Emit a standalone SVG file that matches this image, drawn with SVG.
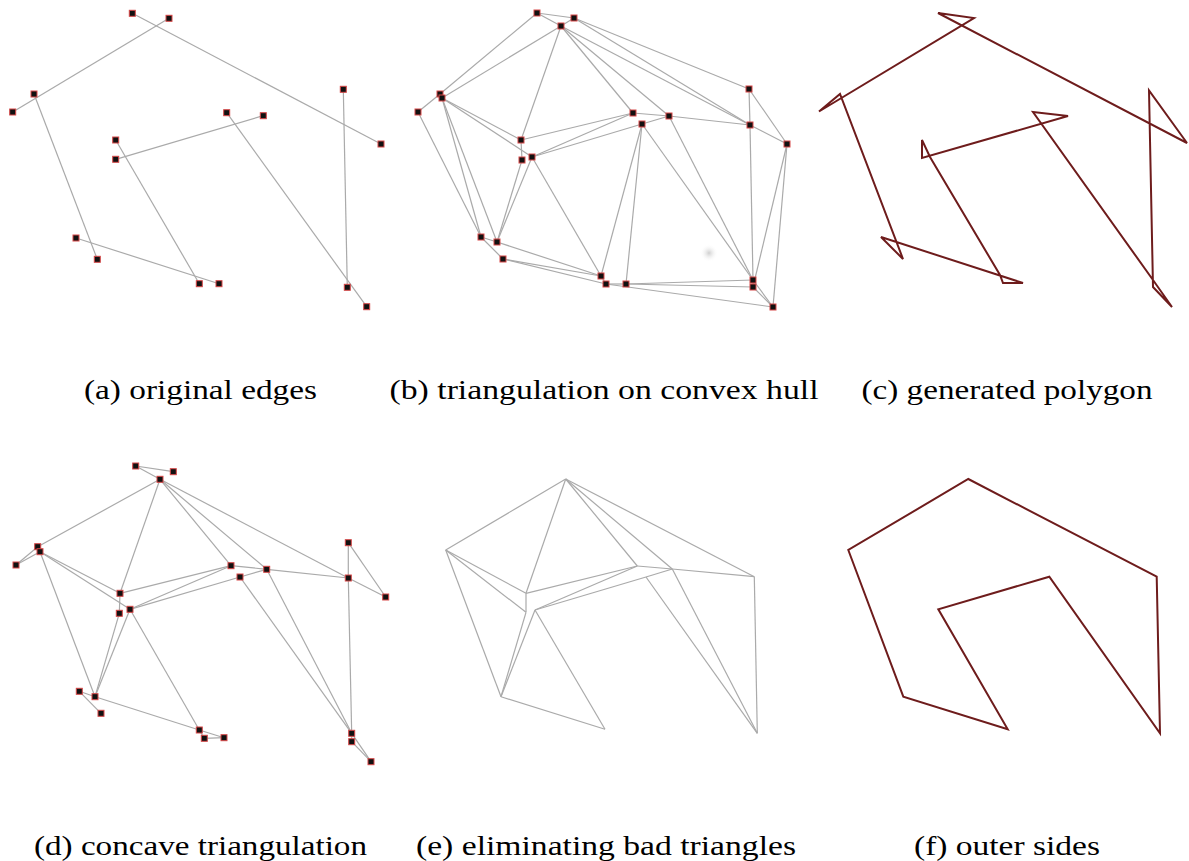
<svg xmlns="http://www.w3.org/2000/svg" xmlns:xlink="http://www.w3.org/1999/xlink" width="1189" height="861" viewBox="0 0 1189 861">
<style>
.e line{stroke:#aaaaaa;stroke-width:1.2;fill:none}
.p{stroke:#6e1c1c;stroke-width:2;fill:none;stroke-linejoin:miter}
.cap{font-family:"Liberation Serif","Times New Roman",serif;font-size:28px;fill:#000;text-anchor:middle}
</style>
<defs>
<rect id="sq" x="-3" y="-3" width="6" height="6" fill="#111" stroke="#d84848" stroke-width="1"/>
<radialGradient id="smudge"><stop offset="0" stop-color="#cfcfcf"/><stop offset="1" stop-color="#ffffff" stop-opacity="0"/></radialGradient>
</defs>
<rect width="1189" height="861" fill="#fff"/>

<!-- (a) original edges -->
<g id="panel-a">
<g id="a-edges" class="e">
<line x1="12.7" y1="112" x2="169" y2="18.3"/>
<line x1="132.3" y1="13.3" x2="381" y2="144"/>
<line x1="34" y1="94" x2="97.3" y2="259.3"/>
<line x1="76" y1="238" x2="219" y2="283.7"/>
<line x1="115.7" y1="140" x2="199.3" y2="283.7"/>
<line x1="115.7" y1="159.3" x2="263.3" y2="115.7"/>
<line x1="226.7" y1="112.7" x2="366.7" y2="306.7"/>
<line x1="343.3" y1="89.3" x2="347.3" y2="287.3"/>
</g>
<g id="a-n1"><use xlink:href="#sq" x="132.3" y="13.3"/></g>
<g id="a-n2"><use xlink:href="#sq" x="169" y="18.3"/></g>
<g id="a-n3"><use xlink:href="#sq" x="34" y="94"/></g>
<g id="a-n4"><use xlink:href="#sq" x="12.7" y="112"/></g>
<g id="a-n5"><use xlink:href="#sq" x="343.3" y="89.3"/></g>
<g id="a-n6"><use xlink:href="#sq" x="226.7" y="112.7"/></g>
<g id="a-n7"><use xlink:href="#sq" x="263.3" y="115.7"/></g>
<g id="a-n8"><use xlink:href="#sq" x="381" y="144"/></g>
<g id="a-n9"><use xlink:href="#sq" x="115.7" y="140"/></g>
<g id="a-n10"><use xlink:href="#sq" x="115.7" y="159.3"/></g>
<g id="a-n11"><use xlink:href="#sq" x="76" y="238"/></g>
<g id="a-n12"><use xlink:href="#sq" x="97.3" y="259.3"/></g>
<g id="a-n13"><use xlink:href="#sq" x="199.3" y="283.7"/></g>
<g id="a-n14"><use xlink:href="#sq" x="219" y="283.7"/></g>
<g id="a-n15"><use xlink:href="#sq" x="347.3" y="287.3"/></g>
<g id="a-n16"><use xlink:href="#sq" x="366.7" y="306.7"/></g>
<text class="cap" x="200.5" y="399" textLength="233" lengthAdjust="spacingAndGlyphs">(a) original edges</text>
</g>

<!-- (b) triangulation on convex hull -->
<g id="panel-b">
<circle cx="709" cy="253" r="9" fill="url(#smudge)"/>
<g id="b-edges" class="e">
<line x1="537" y1="13" x2="574" y2="18"/>
<line x1="537" y1="13" x2="561" y2="26"/>
<line x1="574" y1="18" x2="561" y2="26"/>
<line x1="537" y1="13" x2="440" y2="94"/>
<line x1="561" y1="26" x2="442" y2="98"/>
<line x1="561" y1="26" x2="521" y2="140"/>
<line x1="561" y1="26" x2="633" y2="113"/>
<line x1="561" y1="26" x2="669" y2="116"/>
<line x1="561" y1="26" x2="750" y2="125"/>
<line x1="574" y1="18" x2="750" y2="125"/>
<line x1="574" y1="18" x2="749" y2="89"/>
<line x1="749" y1="89" x2="750" y2="125"/>
<line x1="749" y1="89" x2="787" y2="144"/>
<line x1="750" y1="125" x2="787" y2="144"/>
<line x1="787" y1="144" x2="773" y2="307"/>
<line x1="787" y1="144" x2="753" y2="287"/>
<line x1="750" y1="125" x2="753" y2="280"/>
<line x1="669" y1="116" x2="750" y2="125"/>
<line x1="633" y1="113" x2="669" y2="116"/>
<line x1="642" y1="124" x2="669" y2="116"/>
<line x1="633" y1="113" x2="521" y2="140"/>
<line x1="633" y1="113" x2="532" y2="157"/>
<line x1="642" y1="124" x2="532" y2="157"/>
<line x1="669" y1="116" x2="753" y2="280"/>
<line x1="642" y1="124" x2="753" y2="280"/>
<line x1="642" y1="124" x2="601" y2="276"/>
<line x1="642" y1="124" x2="626" y2="284"/>
<line x1="440" y1="94" x2="418" y2="112"/>
<line x1="418" y1="112" x2="481" y2="237"/>
<line x1="442" y1="98" x2="521" y2="140"/>
<line x1="442" y1="98" x2="532" y2="157"/>
<line x1="442" y1="98" x2="481" y2="237"/>
<line x1="442" y1="98" x2="497" y2="242"/>
<line x1="521" y1="140" x2="522" y2="160"/>
<line x1="522" y1="160" x2="497" y2="242"/>
<line x1="532" y1="157" x2="497" y2="242"/>
<line x1="532" y1="157" x2="601" y2="276"/>
<line x1="481" y1="237" x2="497" y2="242"/>
<line x1="481" y1="237" x2="503" y2="259"/>
<line x1="497" y1="242" x2="601" y2="276"/>
<line x1="503" y1="259" x2="601" y2="276"/>
<line x1="503" y1="259" x2="606" y2="284"/>
<line x1="601" y1="276" x2="606" y2="284"/>
<line x1="606" y1="284" x2="626" y2="284"/>
<line x1="626" y1="284" x2="753" y2="280"/>
<line x1="626" y1="284" x2="753" y2="287"/>
<line x1="606" y1="284" x2="773" y2="307"/>
<line x1="753" y1="280" x2="753" y2="287"/>
<line x1="753" y1="287" x2="773" y2="307"/>
<line x1="753" y1="280" x2="773" y2="307"/>
</g>
<g id="b-n1"><use xlink:href="#sq" x="537" y="13"/></g>
<g id="b-n2"><use xlink:href="#sq" x="574" y="18"/></g>
<g id="b-n3"><use xlink:href="#sq" x="561" y="26"/></g>
<g id="b-n4a"><use xlink:href="#sq" x="440" y="94"/></g>
<g id="b-n4b"><use xlink:href="#sq" x="442" y="98"/></g>
<g id="b-n5"><use xlink:href="#sq" x="418" y="112"/></g>
<g id="b-n6"><use xlink:href="#sq" x="749" y="89"/></g>
<g id="b-n7"><use xlink:href="#sq" x="633" y="113"/></g>
<g id="b-n8"><use xlink:href="#sq" x="669" y="116"/></g>
<g id="b-n9"><use xlink:href="#sq" x="642" y="124"/></g>
<g id="b-n10"><use xlink:href="#sq" x="750" y="125"/></g>
<g id="b-n11"><use xlink:href="#sq" x="787" y="144"/></g>
<g id="b-n12"><use xlink:href="#sq" x="521" y="140"/></g>
<g id="b-n13"><use xlink:href="#sq" x="522" y="160"/></g>
<g id="b-n14"><use xlink:href="#sq" x="532" y="157"/></g>
<g id="b-n15"><use xlink:href="#sq" x="481" y="237"/></g>
<g id="b-n16"><use xlink:href="#sq" x="497" y="242"/></g>
<g id="b-n17"><use xlink:href="#sq" x="503" y="259"/></g>
<g id="b-n18"><use xlink:href="#sq" x="601" y="276"/></g>
<g id="b-n19"><use xlink:href="#sq" x="606" y="284"/></g>
<g id="b-n20"><use xlink:href="#sq" x="626" y="284"/></g>
<g id="b-n21"><use xlink:href="#sq" x="753" y="280"/></g>
<g id="b-n22"><use xlink:href="#sq" x="753" y="287"/></g>
<g id="b-n23"><use xlink:href="#sq" x="773" y="307"/></g>
<text class="cap" x="604" y="399" textLength="429" lengthAdjust="spacingAndGlyphs">(b) triangulation on convex hull</text>
</g>

<!-- (c) generated polygon -->
<g id="panel-c">
<polygon id="c-polygon" class="p" points="938,13 974,18 819,111.5 840,94 903,259 881,237 1023,283 1003,283 1000,275 930,157 922,140 922,158 1068,116 1033,112 1153,280 1172,307 1153,287 1149,90.5 1187,143 938,13"/>
<text class="cap" x="1007" y="399" textLength="291" lengthAdjust="spacingAndGlyphs">(c) generated polygon</text>
</g>

<!-- (d) concave triangulation -->
<g id="panel-d">
<g id="d-edges" class="e">
<line x1="135.7" y1="466" x2="173.3" y2="471.7"/>
<line x1="135.7" y1="466" x2="160" y2="479.3"/>
<line x1="160" y1="479.3" x2="37.7" y2="546.7"/>
<line x1="37.7" y1="546.7" x2="16" y2="565"/>
<line x1="40" y1="551.7" x2="16" y2="565"/>
<line x1="160" y1="479.3" x2="120" y2="593.3"/>
<line x1="160" y1="479.3" x2="231" y2="565.7"/>
<line x1="160" y1="479.3" x2="266.7" y2="569.3"/>
<line x1="160" y1="479.3" x2="348.3" y2="578"/>
<line x1="40" y1="551.7" x2="120" y2="593.3"/>
<line x1="40" y1="551.7" x2="130" y2="609.3"/>
<line x1="40" y1="551.7" x2="95" y2="696.7"/>
<line x1="348.3" y1="542.7" x2="348.3" y2="578"/>
<line x1="348.3" y1="542.7" x2="385.7" y2="597"/>
<line x1="348.3" y1="578" x2="385.7" y2="597"/>
<line x1="348.3" y1="578" x2="351.7" y2="733.3"/>
<line x1="266.7" y1="569.3" x2="348.3" y2="578"/>
<line x1="231" y1="565.7" x2="266.7" y2="569.3"/>
<line x1="240" y1="577" x2="266.7" y2="569.3"/>
<line x1="231" y1="565.7" x2="120" y2="593.3"/>
<line x1="231" y1="565.7" x2="130" y2="609.3"/>
<line x1="240" y1="577" x2="130" y2="609.3"/>
<line x1="240" y1="577" x2="351.7" y2="733.3"/>
<line x1="266.7" y1="569.3" x2="351.7" y2="733.3"/>
<line x1="120" y1="593.3" x2="119.3" y2="613.3"/>
<line x1="119.3" y1="613.3" x2="95" y2="696.7"/>
<line x1="130" y1="609.3" x2="95" y2="696.7"/>
<line x1="130" y1="609.3" x2="199.3" y2="730"/>
<line x1="79.3" y1="691.3" x2="95" y2="696.7"/>
<line x1="79.3" y1="691.3" x2="101" y2="713.3"/>
<line x1="95" y1="696.7" x2="199.3" y2="730"/>
<line x1="199.3" y1="730" x2="204.3" y2="738.3"/>
<line x1="204.3" y1="738.3" x2="224" y2="737.7"/>
<line x1="199.3" y1="730" x2="224" y2="737.7"/>
<line x1="351.7" y1="733.3" x2="351.7" y2="741.7"/>
<line x1="351.7" y1="741.7" x2="371" y2="761.7"/>
<line x1="351.7" y1="733.3" x2="371" y2="761.7"/>
</g>
<g id="d-n1"><use xlink:href="#sq" x="135.7" y="466"/></g>
<g id="d-n2"><use xlink:href="#sq" x="173.3" y="471.7"/></g>
<g id="d-n3"><use xlink:href="#sq" x="160" y="479.3"/></g>
<g id="d-n4a"><use xlink:href="#sq" x="37.7" y="546.7"/></g>
<g id="d-n4b"><use xlink:href="#sq" x="40" y="551.7"/></g>
<g id="d-n5"><use xlink:href="#sq" x="16" y="565"/></g>
<g id="d-n6"><use xlink:href="#sq" x="348.3" y="542.7"/></g>
<g id="d-n7"><use xlink:href="#sq" x="231" y="565.7"/></g>
<g id="d-n8"><use xlink:href="#sq" x="266.7" y="569.3"/></g>
<g id="d-n9"><use xlink:href="#sq" x="240" y="577"/></g>
<g id="d-n10"><use xlink:href="#sq" x="348.3" y="578"/></g>
<g id="d-n11"><use xlink:href="#sq" x="385.7" y="597"/></g>
<g id="d-n12"><use xlink:href="#sq" x="120" y="593.3"/></g>
<g id="d-n13"><use xlink:href="#sq" x="119.3" y="613.3"/></g>
<g id="d-n14"><use xlink:href="#sq" x="130" y="609.3"/></g>
<g id="d-n15"><use xlink:href="#sq" x="79.3" y="691.3"/></g>
<g id="d-n16"><use xlink:href="#sq" x="95" y="696.7"/></g>
<g id="d-n17"><use xlink:href="#sq" x="101" y="713.3"/></g>
<g id="d-n18"><use xlink:href="#sq" x="199.3" y="730"/></g>
<g id="d-n19"><use xlink:href="#sq" x="204.3" y="738.3"/></g>
<g id="d-n20"><use xlink:href="#sq" x="224" y="737.7"/></g>
<g id="d-n21"><use xlink:href="#sq" x="351.7" y="733.3"/></g>
<g id="d-n22"><use xlink:href="#sq" x="351.7" y="741.7"/></g>
<g id="d-n23"><use xlink:href="#sq" x="371" y="761.7"/></g>
<text class="cap" x="200.5" y="855" textLength="333" lengthAdjust="spacingAndGlyphs">(d) concave triangulation</text>
</g>

<!-- (e) eliminating bad triangles -->
<g id="panel-e">
<g id="e-edges" class="e">
<line x1="565.7" y1="479" x2="445.7" y2="550"/>
<line x1="565.7" y1="479" x2="526" y2="593.3"/>
<line x1="565.7" y1="479" x2="637.3" y2="566"/>
<line x1="565.7" y1="479" x2="672.3" y2="569"/>
<line x1="565.7" y1="479" x2="754.3" y2="576.7"/>
<line x1="445.7" y1="550" x2="526" y2="593.3"/>
<line x1="445.7" y1="550" x2="526" y2="612.3"/>
<line x1="445.7" y1="550" x2="501" y2="696.7"/>
<line x1="526" y1="593.3" x2="526" y2="612.3"/>
<line x1="526" y1="593.3" x2="637.3" y2="566"/>
<line x1="535" y1="610" x2="637.3" y2="566"/>
<line x1="535" y1="610" x2="646" y2="577"/>
<line x1="646" y1="577" x2="672.3" y2="569"/>
<line x1="637.3" y1="566" x2="672.3" y2="569"/>
<line x1="672.3" y1="569" x2="754.3" y2="576.7"/>
<line x1="754.3" y1="576.7" x2="757.3" y2="733.3"/>
<line x1="672.3" y1="569" x2="757.3" y2="733.3"/>
<line x1="646" y1="577" x2="757.3" y2="733.3"/>
<line x1="526" y1="612.3" x2="501" y2="696.7"/>
<line x1="535" y1="610" x2="501" y2="696.7"/>
<line x1="535" y1="610" x2="605" y2="729.3"/>
<line x1="501" y1="696.7" x2="605" y2="729.3"/>
</g>
<text class="cap" x="606" y="855" textLength="380" lengthAdjust="spacingAndGlyphs">(e) eliminating bad triangles</text>
</g>

<!-- (f) outer sides -->
<g id="panel-f">
<polygon id="f-polygon" class="p" points="968.3,479 1156.7,576.7 1160,733.3 1049.3,576.7 938.3,609.3 1007.7,729.3 903.3,696.7 848.3,550"/>
<text class="cap" x="1007" y="855" textLength="186" lengthAdjust="spacingAndGlyphs">(f) outer sides</text>
</g>
</svg>
